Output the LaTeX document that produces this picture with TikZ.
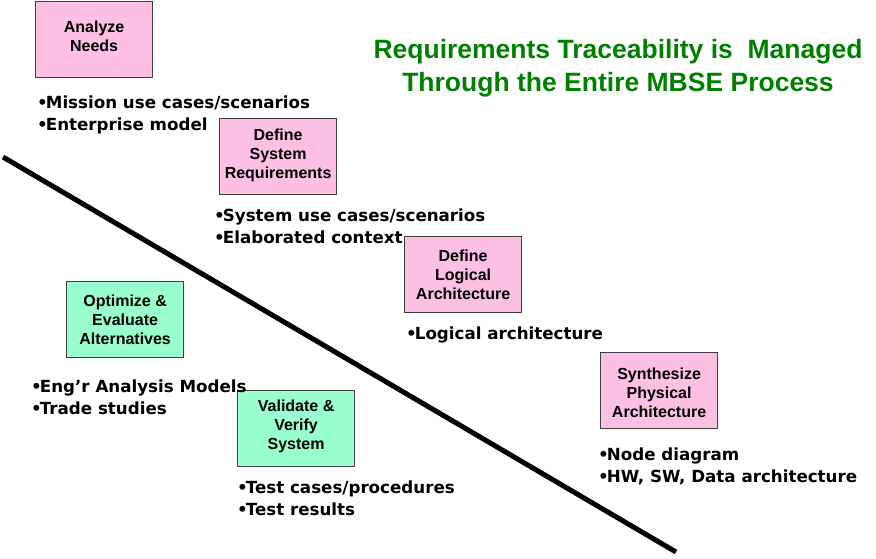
\documentclass[tikz,border=0pt]{standalone}
\usepackage{fontspec}
\setmainfont{Liberation Sans}
\newfontfamily\bulletfont{DejaVu Sans}
\newcommand{\bul}{•\kern-2pt}
\definecolor{boxpink}{RGB}{251,192,228}
\definecolor{boxgreen}{RGB}{153,255,204}
\definecolor{boxgray}{RGB}{64,64,64}
\definecolor{titlegreen}{RGB}{0,128,0}
\begin{document}
\begin{tikzpicture}[x=1pt,y=-1pt,
  procbox/.style={draw=boxgray, line width=1.2pt, minimum width=117pt, minimum height=76pt, inner sep=0pt, anchor=north west},
  pinkbox/.style={procbox, fill=boxpink},
  greenbox/.style={procbox, fill=boxgreen},
  boxtext/.style={font=\bfseries\fontsize{16}{19}\selectfont, align=center, inner sep=0pt},
  bullets/.style={font=\bulletfont\bfseries\fontsize{16.7}{22}\selectfont, align=left, anchor=west, inner sep=0pt},
  title/.style={font=\bfseries\fontsize{26.5}{33}\selectfont, text=titlegreen, align=center, inner sep=0pt}]
\useasboundingbox (0,0) rectangle (876,558);
\fill[white] (0,0) rectangle (876,558);

% boxes
\node[pinkbox] (an) at (35,1) {};
\node[pinkbox] (dsr) at (219,118) {};
\node[pinkbox] (dla) at (404,236) {};
\node[pinkbox] (spa) at (600,352) {};
\node[greenbox] (oea) at (66,281) {};
\node[greenbox] (vvs) at (237,390) {};

% box labels
\node[boxtext] (anl) at (an.center) [yshift=3pt] {Analyze\\Needs};
\node[boxtext] (dsrl) at (dsr.center) [yshift=1.5pt] {Define\\System\\Requirements};
\node[boxtext] (dlal) at (dla.center) [yshift=0pt] {Define\\Logical\\Architecture};
\node[boxtext] (spal) at (spa.center) [yshift=-2pt] {Synthesize\\Physical\\Architecture};
\node[boxtext] (oeal) at (oea.center) [yshift=-0.5pt] {Optimize \&\\Evaluate\\Alternatives};
\node[boxtext] (vvsl) at (vvs.center) [yshift=2.5pt] {Validate \&\\Verify\\System};

% bullet lists
\node[bullets] (b1) at (37,115) {\bul Mission use cases/scenarios\\\bul Enterprise model};
\node[bullets] (b2) at (214,226.5) {\bul System use cases/scenarios\\\bul Elaborated context};
\node[bullets] (b3) at (406,335) {\bul Logical architecture};
\node[bullets] (b4) at (31,397) {\bul Eng’r Analysis Models\\\bul Trade studies};
\node[bullets] (b5) at (237,498) {\bul Test cases/procedures\\\bul Test results};
\node[bullets] (b6) at (598,466) {\bul Node diagram\\\bul HW, SW, Data architecture};

% title
\node[title] (ttl) at (618,68.5) {Requirements Traceability is\ \ Managed\\Through the Entire MBSE Process};

% dividing line
\coordinate (ls) at (3,157);
\coordinate (le) at (676,552);
\draw[line width=5pt] (ls) -- (le);
\end{tikzpicture}
\end{document}
